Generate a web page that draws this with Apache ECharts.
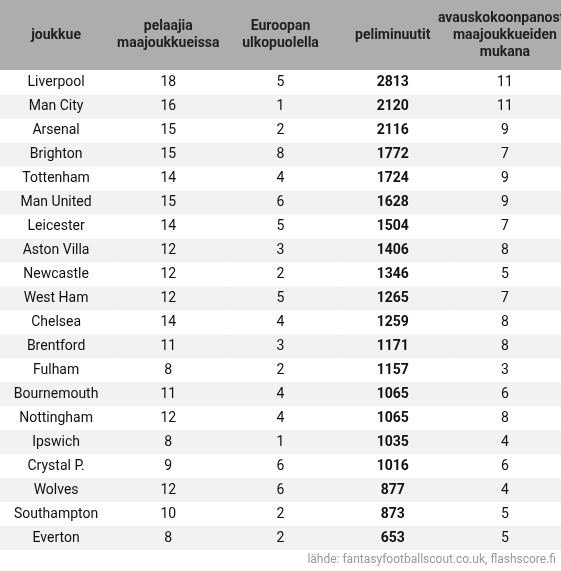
<!DOCTYPE html>
<html><head><meta charset="utf-8">
<script src="https://cdn.jsdelivr.net/npm/echarts@6/dist/echarts.min.js"></script>
<style>html,body{margin:0;padding:0;background:#fff}#c{width:561px;height:571px}</style>
</head><body><div id="c"></div>
<script>
const headers = ['joukkue','pelaajia\nmaajoukkueissa','Euroopan\nulkopuolella','peliminuutit','avauskokoonpanosta\nmaajoukkueiden\nmukana'];
const teams = ['Liverpool','Man City','Arsenal','Brighton','Tottenham','Man United','Leicester','Aston Villa','Newcastle','West Ham','Chelsea','Brentford','Fulham','Bournemouth','Nottingham','Ipswich','Crystal P.','Wolves','Southampton','Everton'];
const players = [18,16,15,15,14,15,14,12,12,12,14,11,8,11,12,8,9,12,10,8];
const outsideEurope = [5,1,2,8,4,6,5,3,2,5,4,3,2,4,4,1,6,6,2,2];
const minutes = [2813,2120,2116,1772,1724,1628,1504,1406,1346,1265,1259,1171,1157,1065,1065,1035,1016,877,873,653];
const starters = [11,11,9,7,9,9,7,8,5,7,8,8,3,6,8,4,6,4,5,5];
const source = 'lähde: fantasyfootballscout.co.uk, flashscore.fi';

const cols = [teams, players, outsideEurope, minutes, starters];
const data = [];
teams.forEach((t, r) => cols.forEach((c, ci) => data.push([ci, r, String(c[r])])));

const chart = echarts.init(document.getElementById('c'));
chart.setOption({
  animation: false,
  grid: {left: 0, right: 0, top: 71, bottom: 21, containLabel: false, outerBoundsMode: 'none'},
  graphic: [
    {type: 'rect', shape: {x: 0, y: 0, width: 561, height: 70}, style: {fill: '#adadad'}, z: -1},
    {type: 'text', right: 5, top: 554, style: {text: source, fill: '#999', font: '12px Roboto'}}
  ],
  xAxis: {type: 'category', data: headers, position: 'top', axisLine: {show: false}, axisTick: {show: false},
    axisLabel: {margin: 36, verticalAlign: 'middle', color: '#222', fontWeight: 'bold', fontSize: 14, lineHeight: 17, fontFamily: 'Roboto', interval: 0}},
  yAxis: {type: 'category', data: teams, inverse: true, show: false},
  series: [{
    type: 'custom', data: data,
    renderItem: (params, api) => {
      const p = api.coord([api.value(0), api.value(1)]);
      const s = api.size([1, 1]);
      const row = api.value(1), col = api.value(0);
      return {type: 'group', children: [
        {type: 'rect', shape: {x: p[0] - s[0] / 2, y: p[1] - s[1] / 2, width: s[0] + 1, height: s[1]},
          style: {fill: row % 2 ? '#f2f2f2' : '#ffffff'}},
        {type: 'text', x: p[0], y: p[1], style: {text: api.value(2), align: 'center', verticalAlign: 'middle',
          fill: '#111', font: (col === 3 ? 'bold ' : '') + '14px Roboto'}}
      ]};
    }
  }]
});
</script></body></html>
